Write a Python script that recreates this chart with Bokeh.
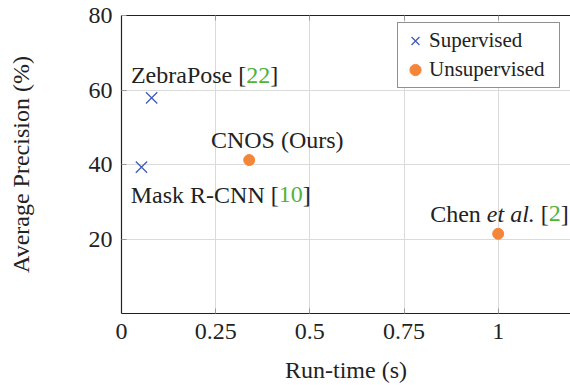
from bokeh.plotting import figure
from bokeh.models import (ColumnDataSource, Range1d, FixedTicker, LinearAxis,
                          Legend, LegendItem)
from bokeh.core.properties import value
from bokeh.embed import file_html
from bokeh.resources import INLINE

# ---- data ----
sup_names = ["ZebraPose", "Mask R-CNN"]
sup_refs = ["22", "10"]
sup_runtime = [0.08, 0.053]
sup_ap = [57.9, 39.3]

unsup_names = ["CNOS (Ours)", "Chen"]
unsup_refs = ["", "2"]
unsup_runtime = [0.339, 1.0]
unsup_ap = [41.2, 21.4]

x_ticks = [0, 0.25, 0.5, 0.75, 1]
x_tick_labels = ["0", "0.25", "0.5", "0.75", "1"]
y_ticks = [20, 40, 60, 80]
y_tick_labels = ["20", "40", "60", "80"]

# ---- styles ----
FONT = "'Liberation Serif'"
BLUE = "#3f5cbf"
ORANGE = "#f4863a"
GREEN = "#4fb33a"
BLACK = "#222222"
ANN_SIZE = 24

# label offsets (px) from each point: (dx, dy downward)
sup_offsets = [(-20.7, -22.5), (-10.7, 27.5)]
unsup_offsets = [(-38.3, -20.0), (-68.0, -20.0)]

# Times/Liberation Serif advance widths (per 1000 em)
ROMAN = {" ": 250, "(": 333, ")": 333, "-": 333, ".": 250, "[": 333, "]": 333,
         "C": 667, "M": 889, "N": 722, "O": 722, "P": 556, "R": 667, "S": 556,
         "Z": 611, "U": 722, "a": 444, "b": 500, "d": 500, "e": 444, "h": 500,
         "i": 278, "k": 500, "l": 278, "n": 500, "o": 500, "p": 500, "r": 333,
         "s": 389, "t": 278, "u": 500, "v": 500, "m": 778}
ITALIC = {" ": 250, ".": 250, "a": 500, "e": 444, "l": 278, "t": 278}


def tw(s, italic=False):
    table = ITALIC if italic else ROMAN
    return sum(table.get(c, 500) for c in s) * ANN_SIZE / 1000.0


p = figure(width=570, height=385, output_backend="svg", toolbar_location=None,
           x_range=Range1d(0, 1.192), y_range=Range1d(0, 80),
           min_border_left=121, min_border_right=0, min_border_top=15,
           min_border_bottom=71)
p.outline_line_color = None
p.background_fill_color = "white"
p.border_fill_color = "white"

# grid
p.xgrid.ticker = FixedTicker(ticks=x_ticks)
p.ygrid.ticker = FixedTicker(ticks=y_ticks)
for g in (p.xgrid, p.ygrid):
    g.grid_line_color = "#dadada"
    g.grid_line_width = 1

# axes
for ax, ticks, labels in ((p.xaxis[0], x_ticks, x_tick_labels),
                          (p.yaxis[0], y_ticks, y_tick_labels)):
    ax.ticker = FixedTicker(ticks=ticks)
    ax.major_label_overrides = {t: l for t, l in zip(ticks, labels)}
    ax.minor_tick_line_color = None
    ax.major_tick_in = 5
    ax.major_tick_out = 0
    ax.major_tick_line_color = "#9a9a9a"
    ax.axis_line_color = BLACK
    ax.axis_line_width = 1.2
    ax.major_label_text_font = FONT
    ax.major_label_text_font_size = "24px"
    ax.major_label_text_color = BLACK
    ax.axis_label_text_font = FONT
    ax.axis_label_text_font_size = "24px"
    ax.axis_label_text_font_style = "normal"
    ax.axis_label_text_color = BLACK

p.xaxis.axis_label = "Run-time (s)"
p.yaxis.axis_label = "Average Precision (%)"
p.xaxis.major_label_standoff = 10
p.yaxis.major_label_standoff = 9
p.xaxis.axis_label_standoff = 15
p.yaxis.axis_label_standoff = 52

# top border with inward ticks (as minor ticks, no labels)
top = LinearAxis(ticker=FixedTicker(ticks=[], minor_ticks=x_ticks),
                 major_tick_line_color=None, minor_tick_in=5, minor_tick_out=0,
                 minor_tick_line_color="#9a9a9a", axis_line_color=BLACK,
                 axis_line_width=1.2)
p.add_layout(top, "above")

# points
sup_src = ColumnDataSource(dict(x=sup_runtime, y=sup_ap))
unsup_src = ColumnDataSource(dict(x=unsup_runtime, y=unsup_ap))
r_sup = p.scatter("x", "y", source=sup_src, marker="x", size=16,
                  line_color=BLUE, line_width=1.3)
r_unsup = p.scatter("x", "y", source=unsup_src, marker="circle", size=11,
                    fill_color=ORANGE, line_color=ORANGE)

# labels built from segments (no leading/trailing spaces inside segments)
seg = dict(x=[], y=[], xo=[], yo=[], text=[], color=[], style=[])


def add_label(x, y, off, name, ref):
    dx, dy = off
    parts = []
    if name == "Chen":
        parts.append(("Chen ", BLACK, "normal"))
        parts.append(("et al.", BLACK, "italic"))
    else:
        parts.append((name, BLACK, "normal"))
    if ref:
        parts.append((" [", BLACK, "normal"))
        parts.append((ref, GREEN, "normal"))
        parts.append(("]", BLACK, "normal"))
    cur = dx
    for t, c, s in parts:
        lead = len(t) - len(t.lstrip(" "))
        shown = t.strip(" ")
        seg["x"].append(x)
        seg["y"].append(y)
        seg["xo"].append(cur + tw(t[:lead], s == "italic"))
        seg["yo"].append(dy)
        seg["text"].append(shown)
        seg["color"].append(c)
        seg["style"].append(s)
        cur += tw(t, s == "italic")


for x, y, off, n, r in zip(sup_runtime, sup_ap, sup_offsets, sup_names, sup_refs):
    add_label(x, y, off, n, r)
for x, y, off, n, r in zip(unsup_runtime, unsup_ap, unsup_offsets, unsup_names, unsup_refs):
    add_label(x, y, off, n, r)

p.text("x", "y", text="text", source=ColumnDataSource(seg), x_offset="xo",
       y_offset="yo", text_color="color", text_font_style="style",
       text_font=value(FONT), text_font_size=f"{ANN_SIZE}px",
       text_align="left", text_baseline="alphabetic")

legend = Legend(items=[LegendItem(label="Supervised", renderers=[r_sup]),
                       LegendItem(label="Unsupervised", renderers=[r_unsup])],
                location=(276, 225))
legend.label_text_font = FONT
legend.label_text_font_size = "21px"
legend.label_text_color = BLACK
legend.padding = 3
legend.spacing = 0
legend.glyph_width = 28
legend.glyph_height = 29
legend.label_height = 29
legend.label_width = 127
legend.label_standoff = 0
legend.margin = 0
legend.border_line_color = BLACK
legend.border_line_width = 1
legend.background_fill_alpha = 1
p.add_layout(legend)

open("out.html", "w").write(file_html(p, INLINE))
